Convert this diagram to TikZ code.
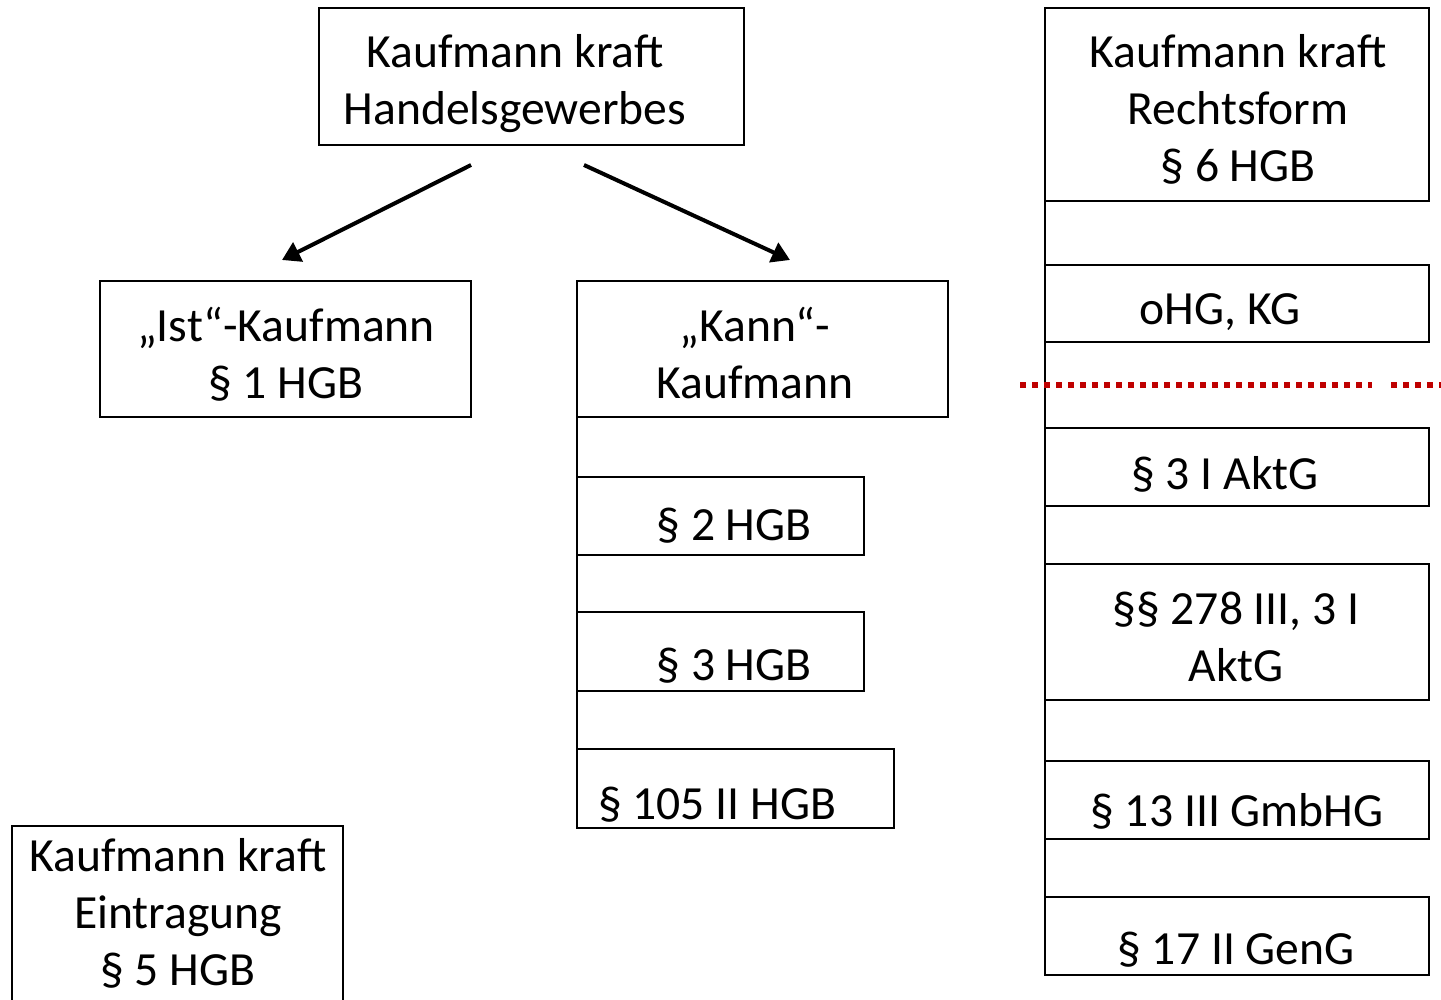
\documentclass[tikz,border=0pt]{standalone}
\usepackage{fontspec}
\setmainfont{Carlito}
\usetikzlibrary{arrows.meta}
\begin{document}
\begin{tikzpicture}[x=0.5pt,y=-0.5pt,
  box/.style={draw, line width=1pt, inner sep=0pt, outer sep=0pt},
  txt/.style={inner sep=0pt, anchor=base, align=center, font=\fontsize{23.8}{28.5}\selectfont},
  arr/.style={line width=2pt, -{Triangle[length=9pt,width=10.5pt]}},
  redline/.style={draw=red!75!black, line width=3pt, dash pattern=on 3pt off 3pt}]
\useasboundingbox (0,0) rectangle (1441,1000);
% top box
\node[box, minimum width=212.5pt, minimum height=68.5pt] (hg) at (531.5,76.5) {};
\node[txt] (thg) at (515,125) {Kaufmann kraft\\Handelsgewerbes};
% Ist / Kann
\node[box, minimum width=185.5pt, minimum height=68pt] (ist) at (285.5,349) {};
\node[txt] (tist) at (286,399) {„Ist“-Kaufmann\\§ 1 HGB};
\node[box, minimum width=185.5pt, minimum height=68pt] (kann) at (762.5,349) {};
\node[txt] (tkann) at (755,399) {„Kann“-\\Kaufmann};
\node[box, minimum width=143.5pt, minimum height=39pt] (p2) at (720.5,516) {};
\node[txt] (tp2) at (734,540) {§ 2 HGB};
\node[box, minimum width=143.5pt, minimum height=39.5pt] (p3) at (720.5,651.5) {};
\node[txt] (tp3) at (734,680) {§ 3 HGB};
\node[box, minimum width=158.5pt, minimum height=39.5pt] (p105) at (735.5,788.5) {};
\node[txt] (tp105) at (717,819) {§ 105 II HGB};
\draw[line width=1pt] (kann.south west) -- (p105.south west);
% arrows
\draw[arr] ([xshift=-30.25pt,yshift=-10pt]hg.south) -- ([xshift=-1.75pt,yshift=10.5pt]ist.north);
\draw[arr] ([xshift=26.25pt,yshift=-10pt]hg.south) -- ([xshift=13.75pt,yshift=10.5pt]kann.north);
% right column
\node[box, minimum width=192pt, minimum height=96.5pt] (rf) at (1237,104.5) {};
\node[txt] (trf) at (1238,182) {Kaufmann kraft\\Rechtsform\\§ 6 HGB};
\node[box, minimum width=192pt, minimum height=38.5pt] (ohg) at (1237,303.5) {};
\node[txt] (tohg) at (1220,325) {oHG, KG};
\node[box, minimum width=192pt, minimum height=39pt] (akt) at (1237,467) {};
\node[txt] (takt) at (1225,489) {§ 3 I AktG};
\node[box, minimum width=192pt, minimum height=68pt] (kgaa) at (1237,632) {};
\node[txt] (tkgaa) at (1236,681) {§§ 278 III, 3 I\\AktG};
\node[box, minimum width=192pt, minimum height=39pt] (gmbh) at (1237,800) {};
\node[txt] (tgmbh) at (1237,826) {§ 13 III GmbHG};
\node[box, minimum width=192pt, minimum height=39pt] (geng) at (1237,936) {};
\node[txt] (tgeng) at (1236,964) {§ 17 II GenG};
\draw[line width=1pt] (rf.south west) -- (geng.south west);
% red dotted line
\draw[redline] (1020,385) -- (1372,385);
\draw[redline] (1391,385) -- (1441,385);
% bottom left box (cut by page edge)
\begin{scope}
\clip (0,0) rectangle (1441,1000);
\node[box, minimum width=165.5pt, minimum height=90pt] (ein) at (177.5,916) {};
\end{scope}
\node[txt] (tein) at (178,985) {Kaufmann kraft\\Eintragung\\§ 5 HGB};
\end{tikzpicture}
\end{document}
